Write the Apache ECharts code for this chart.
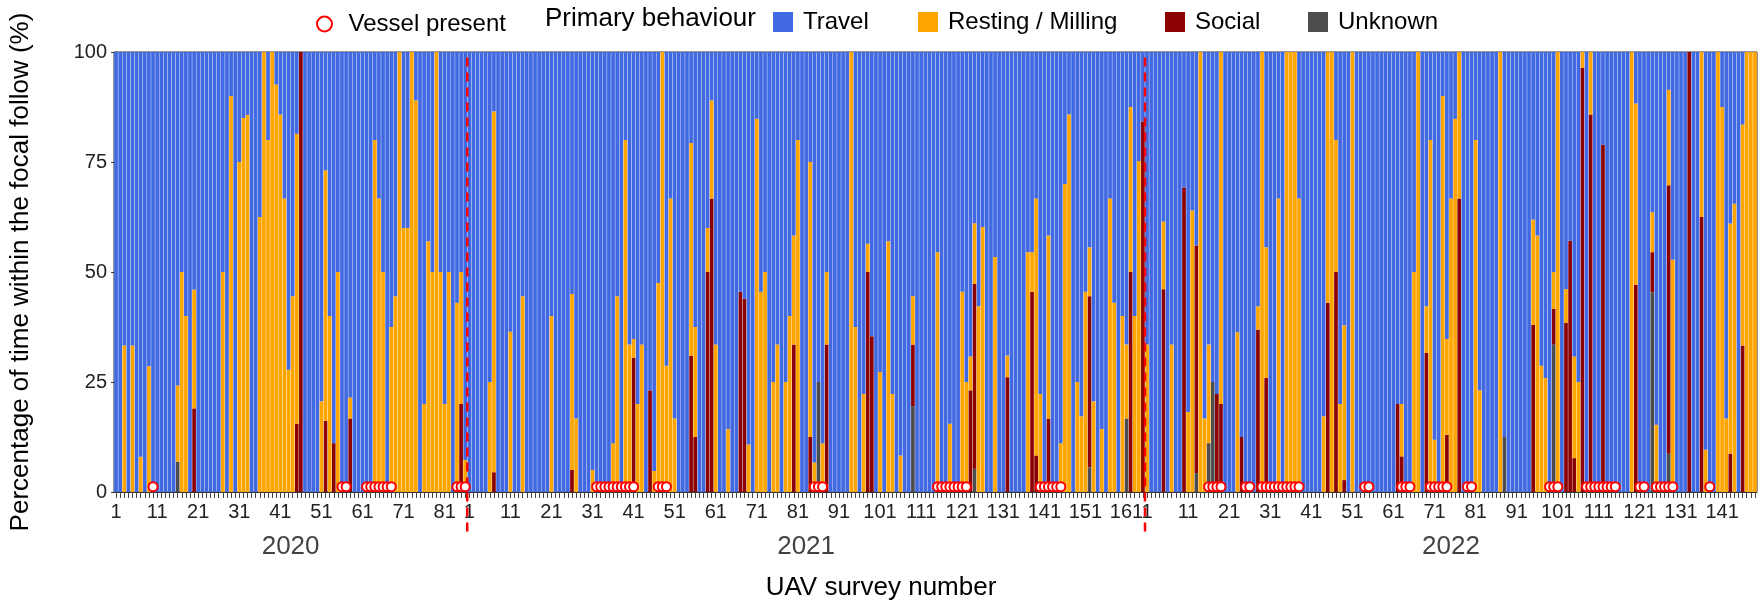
<!DOCTYPE html>
<html><head><meta charset="utf-8">
<script src="https://cdn.jsdelivr.net/npm/echarts@6/dist/echarts.min.js"></script>
<style>html,body{margin:0;padding:0;background:#fff}#c{width:1762px;height:610px}</style>
</head><body><div id="c"></div>
<script>
// ---------- DATA ----------
const years = ['2020', '2021', '2022'];
const surveysPerYear = [86, 165, 149];
const labelStep = 10;               // tick labels 1, 11, 21, ...
const yTicks = [0, 25, 50, 75, 100];

// % of time per behaviour, keyed by survey number within the year (missing = 0)
const resting2020 = {3:33.3,5:33.3,7:8,9:28.6,16:17.3,17:50,18:40,20:27,27:50,29:90,31:75,32:85,33:85.7,36:62.5,37:100,38:80,39:100,40:92.6,41:85.8,42:66.7,43:27.8,44:44.5,45:65.9,51:20.6,52:56.9,53:40,55:50,58:4.8,64:80,65:66.7,66:50,68:37.5,69:44.5,70:100,71:60,72:60,73:100,74:89,76:20,77:57,78:50,79:100,80:50,81:20,82:50,84:43,85:30,86:7.3};
const social2020 = {20:19,45:15.5,46:100,52:16.2,54:11.1,58:16.7,85:20};
const unknown2020 = {16:6.9};
const vessel2020 = [10,56,57,62,63,64,65,66,67,68,84,85,86];

const resting2021 = {6:25,7:82,11:36.4,14:44.5,21:40,26:40,27:16.7,31:5,36:11.1,37:44.5,39:80,40:33.5,41:4.3,42:20,43:33.5,46:4.8,47:47.5,48:100,49:28.7,50:66.7,51:16.7,55:48.3,56:25,59:10,60:22.3,61:33.5,64:14.3,69:10.8,71:84.8,72:45.5,73:50,75:25,76:33.5,78:25,79:40,80:24.8,81:80,84:62.5,85:6.7,87:11.1,88:16.5,94:100,95:37.5,97:22.3,98:6.4,101:27.3,103:57,104:22.3,106:8.3,109:11,115:54.5,118:15.5,121:45.5,122:25,123:7.7,124:13.8,125:42.2,126:60.2,129:53.4,132:4.9,137:54.5,138:9,139:58.4,140:22.3,142:41.6,145:11.1,146:70,147:85.8,149:25,150:17.2,151:45.5,152:11.1,153:20.6,155:14.3,157:66.7,158:43,160:40,161:16.8,162:37.5,163:40,164:75.2};
const social2021 = {7:4.5,26:5,41:30.5,45:23.1,55:31,56:12.5,59:50,60:66.7,67:45.5,68:43.9,80:33.5,84:12.5,88:33.5,98:50,99:35.4,109:14,123:23.1,124:42,132:26.1,138:45.5,139:8.3,142:16.7,152:38.9,162:50,165:84.2};
const unknown2021 = {86:25,109:19.5,124:5.3,152:5.6,161:16.7};
const vessel2021 = [32,33,34,35,36,37,38,39,40,41,47,48,49,85,86,87,115,116,117,118,119,120,121,122,140,141,142,143,144,145];

const resting2022 = {1:33.5,5:15.4,7:33.5,11:18.2,12:64,14:100,15:16.7,16:22.4,19:80,23:36.3,28:5.3,29:100,30:29.7,33:66.7,35:100,36:100,37:100,38:66.7,44:17.2,45:57,46:100,47:30,48:20,49:35.2,51:100,63:11.9,66:50,67:100,69:10.6,70:80,71:11.9,73:90,74:21.8,75:66.7,76:84.8,77:33.3,81:80,82:23.1,87:100,95:23.9,96:58.3,97:28.7,98:25.9,100:8.4,101:100,103:7.7,105:23.1,106:25,107:3.6,109:14.2,119:100,120:41.2,124:9.1,125:15.3,128:21.7,129:52.8,136:37.5,137:9.6,140:100,141:87.5,142:16.7,143:52.3,144:65.5,146:50.2,147:100,148:100,149:100};
const social2022 = {5:46.1,10:69.2,13:51.7,18:22.3,19:20,24:12.5,28:36.9,30:25.9,45:43,47:50,49:2.7,62:20,63:8.1,69:31.6,74:13,77:66.7,95:38,100:8.1,103:38.4,104:57.1,105:7.7,107:96.4,109:85.8,112:78.9,120:47.1,124:9.1,128:61,133:100,136:62.5,143:8.7,146:33.3};
const unknown2022 = {13:4.3,16:11.1,17:25,88:12.5,100:33.5,124:45.4,128:8.7};
const vessel2022 = [16,17,18,19,25,26,29,30,31,32,33,34,35,36,37,38,54,55,63,64,65,70,71,72,73,74,79,80,99,100,101,108,109,110,111,112,113,114,115,121,122,125,126,127,128,129,138];

// ---------- BUILD ----------
const restingByYear = [resting2020, resting2021, resting2022];
const socialByYear = [social2020, social2021, social2022];
const unknownByYear = [unknown2020, unknown2021, unknown2022];
const vesselByYear = [vessel2020, vessel2021, vessel2022];

const C = {travel:'#4169E1', resting:'#FFA500', social:'#8B0000', unknown:'#4D4D4D', vessel:'#FF0000', divider:'#FF0000'};
const FONT = "'Liberation Sans', Arial, sans-serif";

const cats = [], travel = [], rest = [], soc = [], unk = [], vessel = [], bounds = [], yearMarks = [];
let off = 0;
years.forEach((y, k) => {
  const n = surveysPerYear[k];
  for (let i = 1; i <= n; i++) {
    cats.push(y + '-' + i);
    const r = restingByYear[k][i] || 0, s = socialByYear[k][i] || 0, u = unknownByYear[k][i] || 0;
    rest.push(r); soc.push(s); unk.push(u);
    travel.push(Math.max(0, +(100 - r - s - u).toFixed(2))); // travel = remaining share of the follow
  }
  vesselByYear[k].forEach(i => vessel.push([off + i - 1, 1.2]));
  yearMarks.push([off + (n - 1) / 2, -12.4, y]);
  off += n;
  if (k < years.length - 1) bounds.push(off - 0.5);
});
const N = off;

const chart = echarts.init(document.getElementById('c'), null, {renderer: 'canvas'});
const barBase = {type: 'bar', stack: 'b', barCategoryGap: '10%', xAxisIndex: 0, yAxisIndex: 0, silent: true};
const legendText = {fontSize: 24, color: '#000', fontFamily: FONT, padding: [0, 0, 0, 5]};
const legendBox = (name, left) => ({data: [name], left: left, top: 10, itemWidth: 20, itemHeight: 20, icon: 'rect', textStyle: legendText, selectedMode: false, padding: 0});

chart.setOption({
  animation: false,
  backgroundColor: '#fff',
  textStyle: {fontFamily: FONT},
  grid: {left: 114, right: 5, top: 52, bottom: 118, show: true, borderColor: '#333', borderWidth: 1, containLabel: false, outerBoundsMode: 'none'},
  legend: [
    {data: ['Vessel present'], left: 316, top: 12, itemWidth: 28, itemHeight: 15, textStyle: legendText, selectedMode: false, padding: 0},
    legendBox('Travel', 773),
    legendBox('Resting / Milling', 918),
    legendBox('Social', 1165),
    legendBox('Unknown', 1308)
  ],
  graphic: [
    {type: 'text', left: 545, top: 6, style: {text: 'Primary behaviour', fontSize: 26, fill: '#000', fontFamily: FONT}},
    {type: 'text', left: 'center', top: 575, style: {text: 'UAV survey number', fontSize: 26, fill: '#000', fontFamily: FONT}}
  ],
  xAxis: [
    {type: 'category', data: cats, boundaryGap: true,
     axisLine: {show: true, lineStyle: {color: '#333', width: 1}},
     axisTick: {show: true, interval: 0, alignWithLabel: true, length: 6, lineStyle: {color: '#444', width: 1}},
     axisLabel: {interval: (i, v) => (+String(v).split('-')[1]) % labelStep === 1,
                 formatter: v => String(v).split('-')[1], fontSize: 20, color: '#222', margin: 10, fontFamily: FONT},
     splitLine: {show: false}},
    {type: 'value', min: -0.5, max: N - 0.5, show: false, gridIndex: 0}
  ],
  yAxis: {type: 'value', min: yTicks[0], max: yTicks[yTicks.length - 1], interval: yTicks[1] - yTicks[0],
    axisLine: {show: true, lineStyle: {color: '#333'}},
    axisTick: {show: true, length: 5, lineStyle: {color: '#333'}},
    axisLabel: {fontSize: 20, color: '#222', margin: 7, fontFamily: FONT},
    splitLine: {show: false},
    name: 'Percentage of time within the focal follow (%)', nameLocation: 'middle', nameGap: 80,
    nameTextStyle: {fontSize: 26, color: '#000', fontFamily: FONT}},
  series: [
    Object.assign({}, barBase, {name: 'Unknown', data: unk, itemStyle: {color: C.unknown}}),
    Object.assign({}, barBase, {name: 'Social', data: soc, itemStyle: {color: C.social}}),
    Object.assign({}, barBase, {name: 'Resting / Milling', data: rest, itemStyle: {color: C.resting}}),
    Object.assign({}, barBase, {name: 'Travel', data: travel, itemStyle: {color: C.travel}}),
    ...bounds.map(b => ({type: 'line', xAxisIndex: 1, yAxisIndex: 0, data: [[b, -9], [b, 100]], symbol: 'none', clip: false, silent: true, z: 6,
      lineStyle: {color: C.divider, width: 2.5, type: [9, 6]}})),
    {type: 'scatter', name: 'Vessel present', xAxisIndex: 0, yAxisIndex: 0, data: vessel, symbol: 'circle', symbolSize: 9, z: 7, silent: true,
     itemStyle: {color: '#fff', borderColor: C.vessel, borderWidth: 2, opacity: 1}},
    {type: 'scatter', xAxisIndex: 1, yAxisIndex: 0, data: yearMarks, symbolSize: 0, clip: false, silent: true,
     label: {show: true, position: 'inside', formatter: p => p.value[2], fontSize: 26, color: '#111', fontFamily: FONT}}
  ]
});
</script>
</body></html>
